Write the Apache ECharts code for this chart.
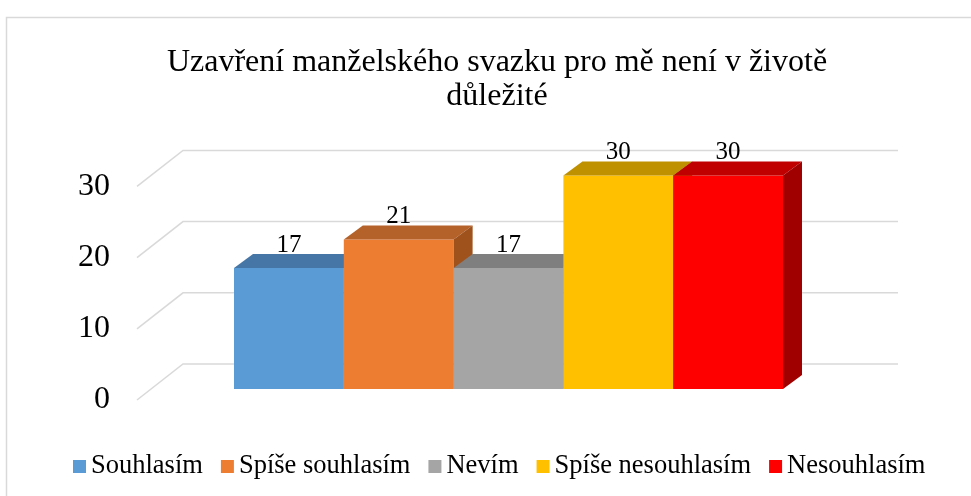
<!DOCTYPE html>
<html>
<head>
<meta charset="utf-8">
<script src="https://cdn.jsdelivr.net/npm/echarts@6/dist/echarts.min.js"></script>
<style>
  html, body { margin: 0; padding: 0; background: #fff; }
  #chart { width: 971px; height: 496px; }
</style>
</head>
<body>
<div id="chart"></div>
<script>
// data
var categories = ['Souhlasím', 'Spíše souhlasím', 'Nevím', 'Spíše nesouhlasím', 'Nesouhlasím'];
var values = [17, 21, 17, 30, 30];
var yTicks = [0, 10, 20, 30];
var titleText = 'Uzavření manželského svazku pro mě není v životě\ndůležité';

var frontColors = ['#5B9BD5', '#ED7D31', '#A5A5A5', '#FFC000', '#FF0000'];
var topColors   = ['#4676A6', '#B5612A', '#7F7F7F', '#BF9000', '#C00000'];
var sideColors  = ['#3E6690', '#A0521D', '#6F6F6F', '#A67C00', '#A00000'];

var FONT = 'Liberation Serif';
var DX = 19, DY = 14;     // depth of a bar
var LIFT = 11;            // front face sits above the axis label line

var chart = echarts.init(document.getElementById('chart'));

function barRenderer(idx) {
    return function (params, api) {
        var p = api.coord([api.value(0), api.value(1)]);
        var base = api.coord([api.value(0), 0]);
        var w = api.size([1, 0])[0];
        var x = p[0] - w / 2;
        var top = p[1] - LIFT;
        var bot = base[1] - LIFT;
        return {
            type: 'group',
            children: [
                { type: 'rect', shape: { x: x, y: top, width: w, height: bot - top },
                  style: { fill: frontColors[idx] } },
                { type: 'polygon', shape: { points: [[x, top], [x + DX, top - DY], [x + w + DX, top - DY], [x + w, top]] },
                  style: { fill: topColors[idx] } },
                { type: 'polygon', shape: { points: [[x + w, top], [x + w + DX, top - DY], [x + w + DX, bot - DY], [x + w, bot]] },
                  style: { fill: sideColors[idx] } },
                { type: 'text', style: { x: p[0], y: top - DY - 9, text: String(api.value(1)),
                  textAlign: 'center', textVerticalAlign: 'middle', font: '25px "Liberation Serif"', fill: '#000' } }
            ]
        };
    };
}

var series = [{
    type: 'custom',
    name: 'walls',
    silent: true,
    clip: false,
    z: 1,
    data: yTicks.map(function (v) { return [0, v]; }),
    renderItem: function (params, api) {
        var p = api.coord([0, api.value(1)]);
        var cs = params.coordSys;
        var y = p[1];
        return {
            type: 'polyline',
            shape: { points: [[cs.x - 97, y], [cs.x - 51, y - 36], [cs.x + cs.width + 115, y - 36]] },
            style: { stroke: '#D9D9D9', lineWidth: 1.5, fill: null }
        };
    }
}];

categories.forEach(function (c, i) {
    series.push({
        type: 'custom',
        name: c,
        clip: false,
        z: 2 + i,
        itemStyle: { color: frontColors[i] },
        data: [[i, values[i]]],
        renderItem: barRenderer(i)
    });
});

var option = {
    animation: false,
    backgroundColor: '#fff',
    textStyle: { fontFamily: FONT },
    graphic: [{
        type: 'rect', left: 4, top: 15, silent: true,
        shape: { width: 1000, height: 1000 },
        style: { fill: null, stroke: '#D9D9D9', lineWidth: 1.5 }
    }],
    title: {
        text: titleText,
        left: 492,
        textAlign: 'center',
        top: 41,
        textStyle: { fontFamily: FONT, fontSize: 32, fontWeight: 'normal', color: '#000', lineHeight: 34 }
    },
    legend: {
        data: categories,
        top: 448,
        left: 68,
        icon: 'rect',
        itemWidth: 13,
        itemHeight: 13,
        itemGap: 18,
        textStyle: { fontFamily: FONT, fontSize: 26.5, color: '#000' }
    },
    grid: { left: 234, right: 188, top: 186.4, bottom: 96 },
    xAxis: {
        type: 'category',
        data: categories,
        boundaryGap: true,
        show: false
    },
    yAxis: {
        type: 'value',
        min: 0, max: 30, interval: 10,
        axisLine: { show: false },
        axisTick: { show: false },
        splitLine: { show: false },
        axisLabel: { margin: 124, fontFamily: FONT, fontSize: 32, color: '#000' }
    },
    series: series
};

chart.setOption(option);
</script>
</body>
</html>
